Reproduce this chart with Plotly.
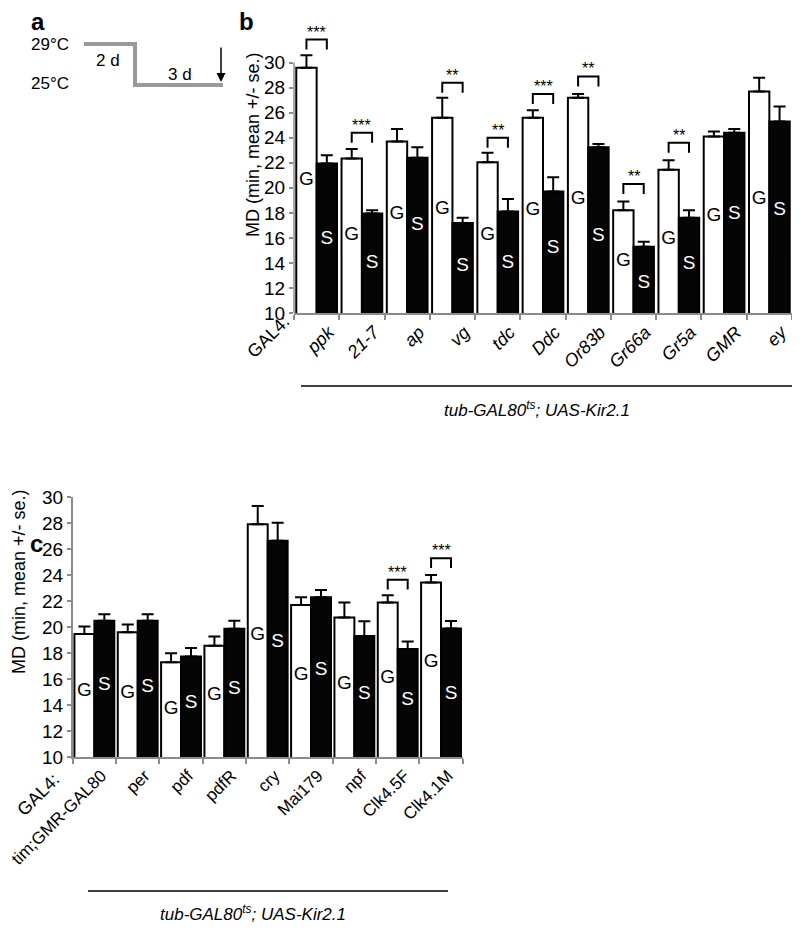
import numpy as np
import plotly.graph_objects as go

# the page keeps an 8 px body margin, so the figure is 8 px smaller on each axis
PAGE_W, PAGE_H, BODY = 800, 930, 8
W, H = PAGE_W - BODY, PAGE_H - BODY

# ---- panel b data ----
genotypes_b = ["ppk", "21-7", "ap", "vg", "tdc", "Ddc", "Or83b", "Gr66a", "Gr5a", "GMR", "ey"]
g_mean_b = [29.6, 22.35, 23.7, 25.6, 22.05, 25.6, 27.2, 18.2, 21.45, 24.1, 27.7]
g_err_b = [1.0, 0.75, 1.0, 1.6, 0.75, 0.6, 0.3, 0.7, 0.75, 0.4, 1.1]
s_mean_b = [21.95, 17.95, 22.4, 17.2, 18.1, 19.7, 23.25, 15.3, 17.6, 24.4, 25.3]
s_err_b = [0.65, 0.25, 0.85, 0.4, 1.0, 1.15, 0.25, 0.4, 0.6, 0.3, 1.2]
sig_b = ["***", "***", "", "**", "**", "***", "**", "**", "**", "", ""]
bracket_b = [31.85, 24.4, None, 28.4, 24.0, 27.5, 28.9, 20.3, 23.6, None, None]
g_label_b = [20.6, 16.25, 17.85, 18.3, 16.25, 18.2, 19.05, 14.15, 15.9, 17.7, 19.1]
s_label_b = [15.9, 13.95, 17.0, 13.7, 14.0, 15.2, 16.1, 12.4, 13.9, 17.9, 18.2]

# ---- panel c data ----
genotypes_c = ["tim;GMR-GAL80", "per", "pdf", "pdfR", "cry", "Mai179", "npf", "Clk4.5F", "Clk4.1M"]
g_mean_c = [19.48, 19.6, 17.3, 18.58, 27.9, 21.7, 20.75, 21.9, 23.44]
g_err_c = [0.57, 0.6, 0.7, 0.7, 1.4, 0.6, 1.15, 0.55, 0.56]
s_mean_c = [20.5, 20.5, 17.75, 19.87, 26.64, 22.3, 19.32, 18.33, 19.9]
s_err_c = [0.5, 0.5, 0.65, 0.63, 1.38, 0.56, 1.13, 0.57, 0.57]
sig_c = ["", "", "", "", "", "", "", "***", "***"]
bracket_c = [None, None, None, None, None, None, None, 23.65, 25.3]
g_label_c = [15.07, 14.95, 13.66, 14.74, 19.35, 16.27, 15.58, 16.1, 17.3]
s_label_c = [15.5, 15.4, 14.18, 15.25, 18.83, 16.66, 14.87, 14.35, 14.87]

y_ticks = list(range(10, 31, 2))

FONT = "Arial, Liberation Sans, sans-serif"
GREY = "#8c8c8c"


def px(x):
    return (x - BODY) / W


def py(y):
    return 1 - (y - BODY) / H


fig = go.Figure()
annotations = []
shapes = []


def note(text, x, y, size=17, **kw):
    # plain text centred on page pixel (x, y)
    d = dict(x=px(x), y=py(y), xref="paper", yref="paper", text=text, showarrow=False,
             xanchor="center", yanchor="middle",
             font=dict(family=FONT, size=size, color="black"))
    d.update(kw)
    annotations.append(d)


def add_panel(names, g_mean, g_err, s_mean, s_err, g_lab, s_lab, sig, brackets,
              xa, ya, w, drop):
    n = len(names)
    idx = np.arange(n)
    common = dict(xaxis=xa, yaxis=ya, showlegend=False, hoverinfo="skip")
    fig.add_trace(go.Bar(
        x=idx, y=g_mean, width=w, offset=-w,
        marker=dict(color="white", line=dict(color="black", width=2)),
        error_y=dict(type="data", symmetric=False, array=g_err, arrayminus=[0] * n,
                     color="black", thickness=2, width=6),
        **common))
    fig.add_trace(go.Bar(
        x=idx, y=s_mean, width=w, offset=0,
        marker=dict(color="#050505", line=dict(color="black", width=2)),
        error_y=dict(type="data", symmetric=False, array=s_err, arrayminus=[0] * n,
                     color="black", thickness=2, width=6),
        **common))
    fig.add_trace(go.Scatter(
        x=idx - w / 2, y=g_lab, mode="text", text=["G"] * n,
        textfont=dict(family=FONT, size=19, color="black"), **common))
    fig.add_trace(go.Scatter(
        x=idx + w / 2, y=s_lab, mode="text", text=["S"] * n,
        textfont=dict(family=FONT, size=19, color="white"), **common))
    for i, (stars, top) in enumerate(zip(sig, brackets)):
        if not stars:
            continue
        fig.add_trace(go.Scatter(
            x=[i - w / 2, i - w / 2, i + w / 2, i + w / 2],
            y=[top - drop, top, top, top - drop],
            mode="lines", line=dict(color="black", width=2), **common))
        annotations.append(dict(
            x=i, y=top, xref=xa, yref=ya, text=stars, showarrow=False,
            xanchor="center", yanchor="bottom", yshift=-3,
            font=dict(family=FONT, size=16, color="black")))


add_panel(genotypes_b, g_mean_b, g_err_b, s_mean_b, s_err_b, g_label_b, s_label_b,
          sig_b, bracket_b, "x", "y", 0.45, 0.8)
add_panel(genotypes_c, g_mean_c, g_err_c, s_mean_c, s_err_c, g_label_c, s_label_c,
          sig_c, bracket_c, "x2", "y2", 0.46, 0.75)


def x_axis(names, left, right, anchor, italic, shift, size):
    n = len(names)
    text = ["<i>%s</i>" % s if italic else s for s in names]
    return dict(
        domain=[px(left), px(right)], anchor=anchor, range=[-0.5, n - 0.5],
        automargin=False, ticklabeloverflow="allow",
        tickmode="array", tickvals=list(range(n)), ticktext=text, tickangle=-45,
        ticklabelshift=shift,
        tickfont=dict(family=FONT, size=size, color="black"), ticks="",
        showline=True, linecolor=GREY, linewidth=1.5, showgrid=False, zeroline=False,
        minor=dict(tickmode="array", tickvals=[i - 0.5 for i in range(n + 1)],
                   ticks="outside", ticklen=5, tickcolor=GREY, tickwidth=1.5),
    )


def y_axis(bottom, top, anchor, rng, showline):
    return dict(
        domain=[py(bottom), py(top)], anchor=anchor, range=rng, automargin=False,
        tickmode="array", tickvals=y_ticks, ticks="outside", ticklen=4,
        tickcolor=GREY, tickwidth=1.5,
        tickfont=dict(family=FONT, size=19, color="black"),
        showline=showline, linecolor=GREY, linewidth=1.5,
        showgrid=False, zeroline=False,
    )


# y axis line of panel b only up to 30
shapes.append(dict(type="line", xref="x domain", yref="y domain", x0=0, x1=0,
                   y0=0, y1=(30 - 10) / (34 - 10), line=dict(color=GREY, width=1.5)))

# axis titles
for x, y in [(253, 145), (19, 582)]:
    note("MD (min, mean +/- se.)", x, y, size=18, textangle=-90)
for x, y in [(268, 337), (38, 795)]:
    note("GAL4:", x, y, size=18, textangle=-45)

# genotype bars under x labels
for x0, x1, y, tx, ty in [(301, 795, 386, 537, 409), (88, 448, 891, 253, 913)]:
    shapes.append(dict(type="line", xref="paper", yref="paper", x0=px(x0), x1=px(x1),
                       y0=py(y), y1=py(y), line=dict(color="black", width=1.5)))
    note("<i>tub-GAL80<sup>ts</sup>; UAS-Kir2.1</i>", tx, ty)

# panel letters
for letter, x, y in [("a", 38, 22), ("b", 247, 22), ("c", 36, 543)]:
    note("<b>%s</b>" % letter, x, y, size=24)

# panel a: temperature shift schematic
path = "M %f,%f L %f,%f L %f,%f L %f,%f" % (px(84), py(44), px(135), py(44),
                                            px(135), py(85), px(223), py(85))
shapes.append(dict(type="path", xref="paper", yref="paper", path=path,
                   line=dict(color="#999999", width=4)))
for text, x, y in [("29°C", 50, 45), ("25°C", 50, 84), ("2 d", 108, 60), ("3 d", 180, 74)]:
    note(text, x, y)
annotations.append(dict(x=px(221), y=py(82), xref="paper", yref="paper", text="",
                        showarrow=True, arrowhead=2, arrowsize=1.2, arrowwidth=1.5,
                        arrowcolor="black", ax=0, ay=-36))

fig.update_layout(
    width=W, height=H, margin=dict(l=0, r=0, t=0, b=0, autoexpand=False),
    paper_bgcolor="white", plot_bgcolor="white", barmode="overlay",
    xaxis=x_axis(genotypes_b, 294, 792, "y", True, 12, 18),
    yaxis=y_axis(313, 12.6, "x", [10, 34], False),
    xaxis2=x_axis(genotypes_c, 72.7, 462.7, "y2", False, 7, 17),
    yaxis2=y_axis(757.3, 497, "x2", [10, 30], True),
    annotations=annotations, shapes=shapes,
    font=dict(family=FONT, color="black"),
)

fig.write_html("out.html")
